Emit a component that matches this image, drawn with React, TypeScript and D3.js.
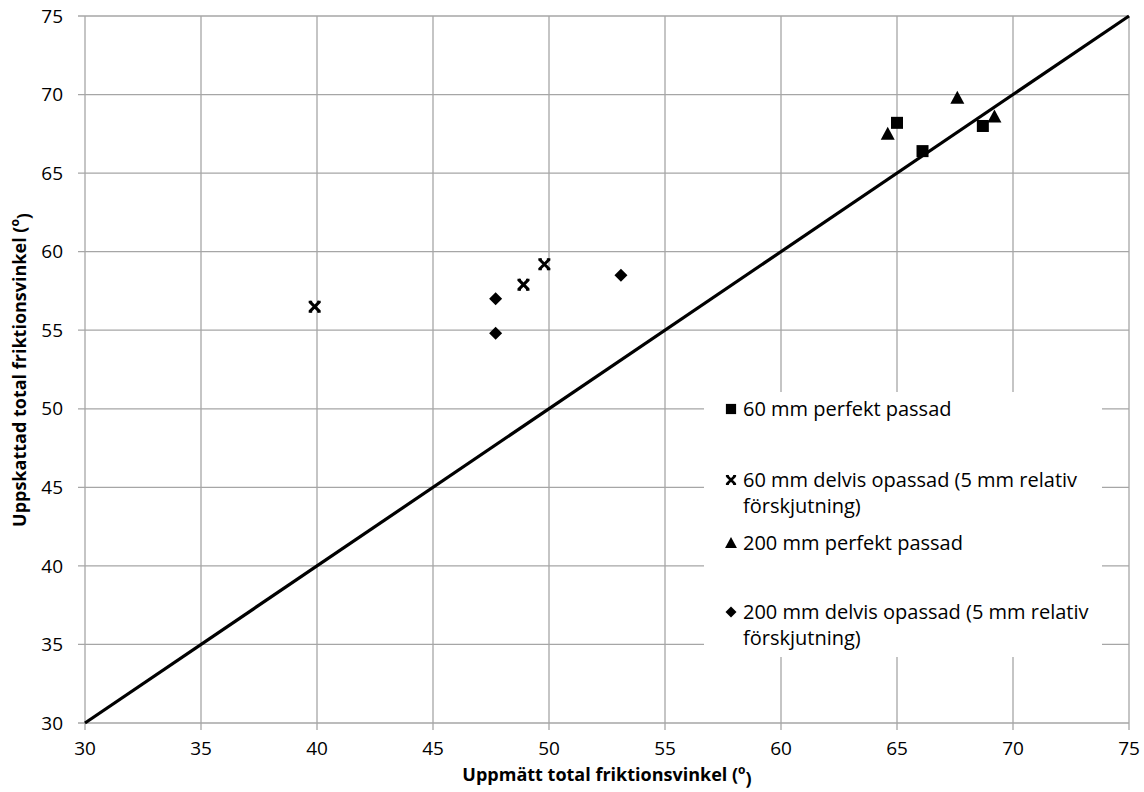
import React from 'react'
import * as d3 from 'd3'

// measured vs estimated total friction angle
const sq60x = [65.0, 66.1, 68.7]
const sq60y = [68.2, 66.4, 68.0]
const star60x = [39.9, 48.9, 49.8]
const star60y = [56.5, 57.9, 59.2]
const tri200x = [64.6, 67.6, 69.2]
const tri200y = [67.5, 69.8, 68.6]
const dia200x = [47.7, 47.7, 53.1]
const dia200y = [57.0, 54.8, 58.5]

const ticks = [30, 35, 40, 45, 50, 55, 60, 65, 70, 75]
const legendLabels = [
  ['60 mm perfekt passad'],
  ['60 mm delvis opassad (5 mm relativ', 'förskjutning)'],
  ['200 mm perfekt passad'],
  ['200 mm delvis opassad (5 mm relativ', 'förskjutning)'],
]

const W = 1144
const H = 792
const font = "'Open Sans', 'Noto Sans', sans-serif"
const grid = '#a6a6a6'

function Marker({ kind, x, y, s = 1 }: { kind: number; x: number; y: number; s?: number }) {
  if (kind === 0) return <rect x={x - 6 * s} y={y - 6 * s} width={12 * s} height={12 * s} fill="#000" />
  if (kind === 1) {
    const r = 5 * s
    const c = 2.5 * s
    return (
      <g stroke="#000" fill="none">
        <path
          d={`M${x - r},${y - r}L${x + r},${y + r}M${x - r},${y + r}L${x + r},${y - r}`}
          strokeWidth={3 * s}
        />
        <path
          d={`M${x - r - c * 0.4},${y - r}H${x - r + c}M${x + r - c},${y - r}H${x + r + c * 0.4}M${x - r - c * 0.4},${y + r}H${x - r + c}M${x + r - c},${y + r}H${x + r + c * 0.4}`}
          strokeWidth={2 * s}
        />
      </g>
    )
  }
  if (kind === 2) {
    const r = 7 * s
    return <path d={`M${x},${y - r}L${x + r},${y + r * 0.85}L${x - r},${y + r * 0.85}Z`} fill="#000" />
  }
  const r = 6.5 * s
  return <path d={`M${x},${y - r}L${x + r},${y}L${x},${y + r}L${x - r},${y}Z`} fill="#000" />
}

export default function App() {
  const x = d3.scaleLinear().domain([30, 75]).range([85, 1129])
  const y = d3.scaleLinear().domain([30, 75]).range([723, 16])

  const series = [
    { kind: 0, xs: sq60x, ys: sq60y },
    { kind: 1, xs: star60x, ys: star60y },
    { kind: 2, xs: tri200x, ys: tri200y },
    { kind: 3, xs: dia200x, ys: dia200y },
  ]

  const line = d3.line<number>().x((d) => x(d)).y((d) => y(d))

  const legendRows = [409, 480, 543, 612]

  return (
    <svg width={W} height={H} style={{ position: 'absolute', left: 0, top: 0, background: '#fff' }}>
      <rect width={W} height={H} fill="#fff" />
      {/* grid */}
      {ticks.map((t) => (
        <g key={'g' + t}>
          <line x1={x(t)} x2={x(t)} y1={y(75)} y2={y(30) + 7} stroke={grid} strokeWidth={1.3} />
          <line x1={x(30) - 7} x2={x(75)} y1={y(t)} y2={y(t)} stroke={grid} strokeWidth={1.3} />
          <text x={63} y={y(t)} dy="0.35em" textAnchor="end" fontFamily={font} fontSize={19} fill="#000">
            {t}
          </text>
          <text x={x(t)} y={748} dy="0.35em" textAnchor="middle" fontFamily={font} fontSize={19} fill="#000">
            {t}
          </text>
        </g>
      ))}
      <path d={line([30, 75]) || ''} stroke="#000" strokeWidth={3.2} fill="none" />
      {series.map((s) =>
        s.xs.map((v, i) => <Marker key={s.kind + '-' + i} kind={s.kind} x={x(v)} y={y(s.ys[i])} />)
      )}
      {/* legend */}
      <rect x={704} y={392} width={398} height={265} fill="#fff" />
      {legendLabels.map((lines, i) => (
        <g key={'l' + i}>
          <Marker kind={i} x={731} y={legendRows[i]} s={0.85} />
          {lines.map((t, j) => (
            <text
              key={j}
              x={743}
              y={legendRows[i] + j * 26}
              dy="0.35em"
              fontFamily={font}
              fontSize={20}
              fill="#000"
            >
              {t}
            </text>
          ))}
        </g>
      ))}
      <text x={607} y={775} dy="0.35em" textAnchor="middle" fontFamily={font} fontSize={18} fontWeight="bold">
        Uppmätt total friktionsvinkel (
        <tspan fontSize={12} dy="-0.6em">o</tspan>
        <tspan dy="0.6em">)</tspan>
      </text>
      <text
        transform={`translate(20,${370}) rotate(-90)`}
        dy="0.35em"
        textAnchor="middle"
        fontFamily={font}
        fontSize={18}
        fontWeight="bold"
      >
        Uppskattad total friktionsvinkel (
        <tspan fontSize={12} dy="-0.6em">o</tspan>
        <tspan dy="0.6em">)</tspan>
      </text>
    </svg>
  )
}
